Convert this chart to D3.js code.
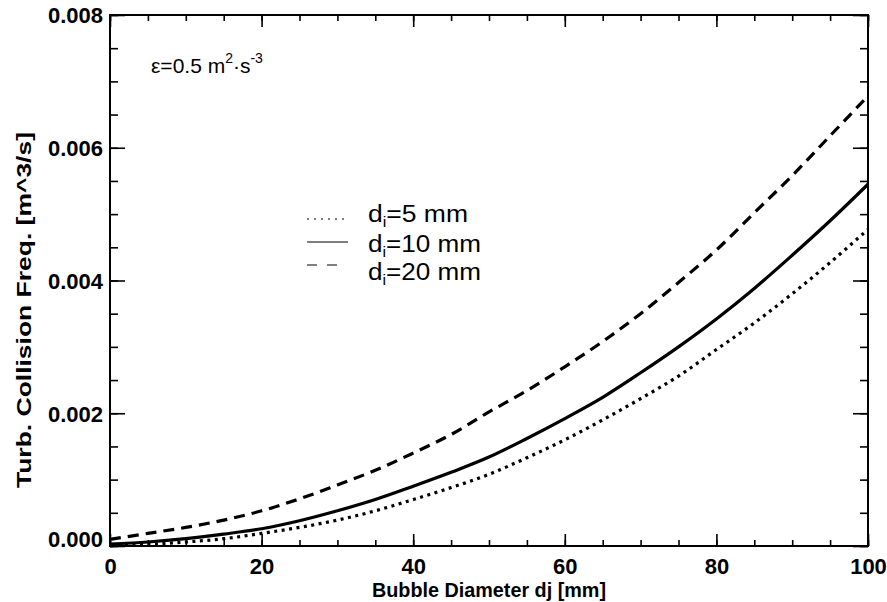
<!DOCTYPE html>
<html>
<head>
<meta charset="utf-8">
<script src="https://cdn.jsdelivr.net/npm/d3@7"></script>
<style>
  body { margin: 0; background: #fff; }
  text { font-family: "Liberation Sans", Arial, Helvetica, sans-serif; fill: #000; }
</style>
</head>
<body>
<svg id="chart" width="887" height="602"></svg>
<script>
// bubble diameter dj [mm]
let dj = [0, 5, 10, 15, 20, 25, 30, 35, 40, 45, 50, 55, 60, 65, 70, 75, 80, 85, 90, 95, 100];
// turbulent collision frequency [m^3/s]
let freq5  = [0.000005, 0.000025, 0.00006, 0.00011, 0.00019, 0.00028, 0.00039, 0.00053, 0.0007, 0.00088, 0.00108, 0.00133, 0.0016, 0.0019, 0.00222, 0.00256, 0.00296, 0.00336, 0.0038, 0.00427, 0.00477];
let freq10 = [0.00003, 0.00006, 0.00011, 0.00018, 0.00026, 0.00038, 0.00053, 0.0007, 0.0009, 0.00111, 0.00134, 0.00162, 0.00192, 0.00224, 0.00261, 0.003, 0.00342, 0.00388, 0.00438, 0.0049, 0.00545];
let freq20 = [0.0001, 0.00019, 0.00028, 0.00039, 0.00053, 0.00071, 0.00092, 0.00114, 0.0014, 0.00168, 0.00202, 0.00234, 0.0027, 0.00308, 0.0035, 0.00397, 0.00446, 0.00502, 0.00558, 0.00618, 0.00678];

let seriesLabels = ['5', '10', '20'];
let xTicks = [0, 20, 40, 60, 80, 100];
let yTicks = [0, 0.002, 0.004, 0.006, 0.008];

let pLeft = 110, pRight = 868, pTop = 15, pBottom = 546;

let svg = d3.select('#chart');

let x = d3.scaleLinear().domain([0, 100]).range([pLeft, pRight]);
let y = d3.scaleLinear().domain([0, 0.008]).range([pBottom, pTop]);

let xMinor = d3.range(0, 100.001, 5);
let yMinor = d3.range(0, 0.008001, 0.0005);

// ticks on all four sides, pointing inward
function tickAxis(axisFn, scale, vals, size, pos, labels) {
  let ax = axisFn(scale).tickValues(vals).tickSize(size).tickPadding(7);
  if (labels) ax.tickFormat(labels);
  else ax.tickFormat('');
  return svg.append('g')
    .attr('transform', pos)
    .call(ax)
    .call(g => g.select('.domain').remove())
    .call(g => g.selectAll('line').attr('stroke', '#000').attr('stroke-width', 1.6));
}

tickAxis(d3.axisBottom, x, xMinor, -6, `translate(0,${pBottom})`);
tickAxis(d3.axisTop, x, xMinor, -6, `translate(0,${pTop})`);
tickAxis(d3.axisLeft, y, yMinor, -8, `translate(${pLeft},0)`);
tickAxis(d3.axisRight, y, yMinor, -8, `translate(${pRight},0)`);

let xAx = tickAxis(d3.axisBottom, x, xTicks, -12, `translate(0,${pBottom})`, d3.format('d'));
tickAxis(d3.axisTop, x, xTicks, -12, `translate(0,${pTop})`);
let yAx = tickAxis(d3.axisLeft, y, yTicks, -15, `translate(${pLeft},0)`, d3.format('.3f'));
tickAxis(d3.axisRight, y, yTicks, -15, `translate(${pRight},0)`);

xAx.selectAll('text')
  .attr('font-size', 22).attr('font-weight', 'bold')
  .attr('y', 28).attr('dy', 0);
yAx.selectAll('text')
  .attr('font-size', 22).attr('font-weight', 'bold')
  .attr('dy', '0.36em')
  .filter(d => d == 0)
  .attr('dy', '0.0em');

// frame
svg.append('rect')
  .attr('x', pLeft).attr('y', pTop)
  .attr('width', pRight - pLeft).attr('height', pBottom - pTop)
  .attr('fill', 'none').attr('stroke', '#000').attr('stroke-width', 2);

// curves
let series = [
  { vals: freq5, dash: '3,4.5' },
  { vals: freq10, dash: null },
  { vals: freq20, dash: '11,7' }
];

let line = d3.line()
  .x((d, i) => x(dj[i]))
  .y(d => y(d))
  .curve(d3.curveCatmullRom);

svg.selectAll('path.curve')
  .data(series)
  .enter()
  .append('path')
  .attr('class', 'curve')
  .attr('d', d => line(d.vals))
  .attr('fill', 'none')
  .attr('stroke', '#000')
  .attr('stroke-width', 3.2)
  .attr('stroke-dasharray', d => d.dash);

// legend
let legY = [219, 242, 265];
let legTextY = [222, 252, 280];
let legDash = ['2,5', null, '10,10'];
let legEnd = [348, 348, 338];
let legWidth = [100, 113, 113];

seriesLabels.forEach((lab, i) => {
  svg.append('line')
    .attr('x1', 307).attr('x2', legEnd[i])
    .attr('y1', legY[i]).attr('y2', legY[i])
    .attr('stroke', '#000').attr('stroke-width', 1)
    .attr('stroke-dasharray', legDash[i]);
  let t = svg.append('text')
    .attr('x', 368).attr('y', legTextY[i])
    .attr('font-size', 23)
    .attr('textLength', legWidth[i])
    .attr('lengthAdjust', 'spacingAndGlyphs');
  t.append('tspan').text('d');
  t.append('tspan').attr('font-size', 14).attr('dy', 5).text('i');
  t.append('tspan').attr('dy', -5).text('=' + lab + ' mm');
});

// epsilon note
let note = svg.append('text').attr('x', 151).attr('y', 73)
  .attr('font-size', 21);
note.append('tspan').text('\u03b5=0.5 m');
note.append('tspan').attr('font-size', 14).attr('dy', -10).text('2');
note.append('tspan').attr('dy', 10).text('\u00b7s');
note.append('tspan').attr('font-size', 14).attr('dy', -10).text('-3');

// axis titles
svg.append('text')
  .attr('x', (pLeft + pRight) / 2).attr('y', 597)
  .attr('text-anchor', 'middle')
  .attr('font-size', 20).attr('font-weight', 'bold')
  .attr('textLength', 234).attr('lengthAdjust', 'spacingAndGlyphs')
  .text('Bubble Diameter dj [mm]');

svg.append('text')
  .attr('transform', 'translate(31,310) rotate(-90)')
  .attr('text-anchor', 'middle')
  .attr('font-size', 21).attr('font-weight', 'bold')
  .attr('textLength', 356).attr('lengthAdjust', 'spacingAndGlyphs')
  .text('Turb. Collision Freq. [m^3/s]');
</script>
</body>
</html>
